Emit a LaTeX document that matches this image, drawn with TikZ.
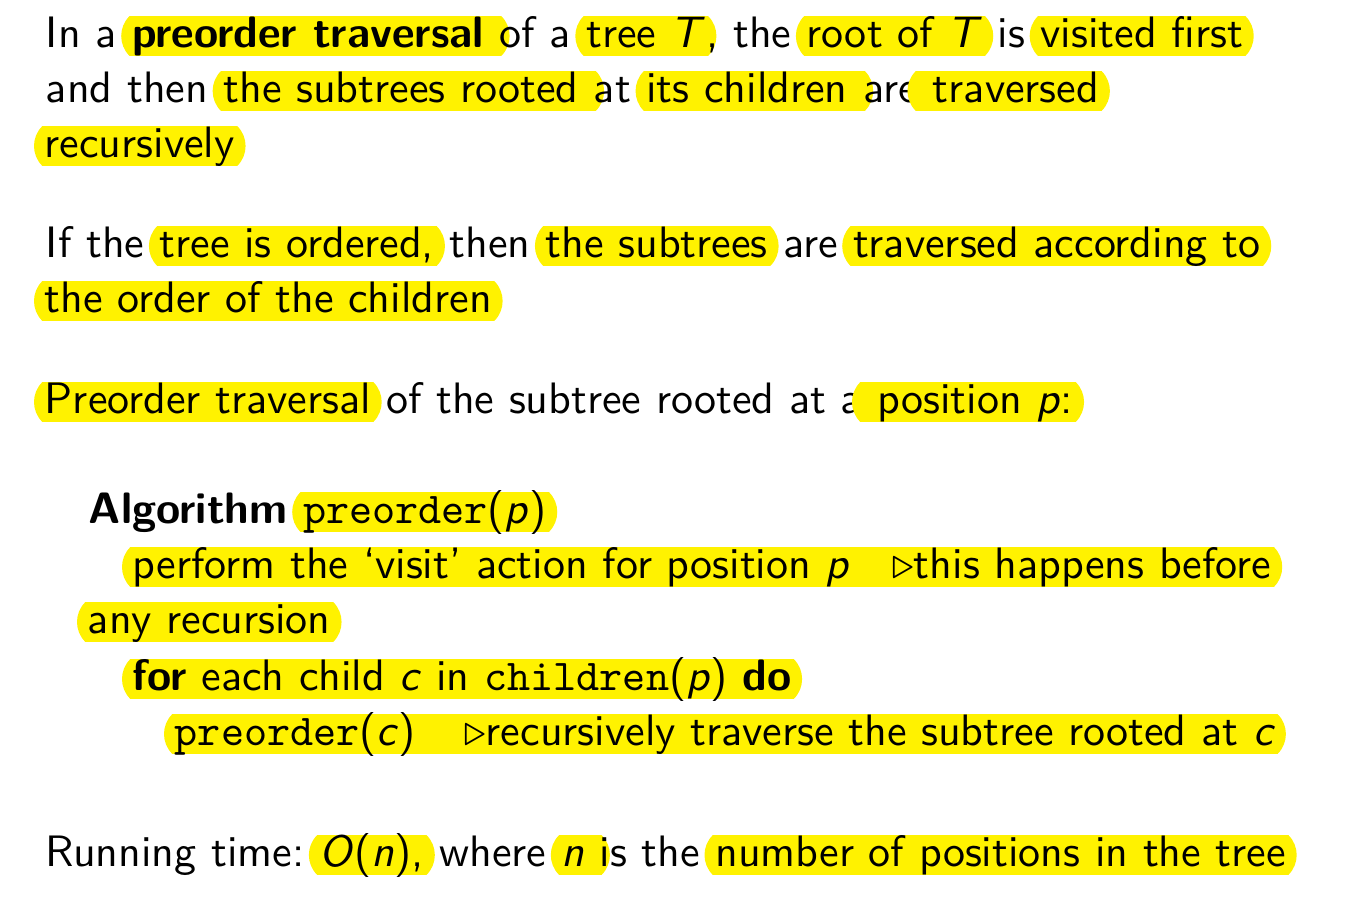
\documentclass[tikz,border=0pt]{standalone}
\usepackage{tikz}
\usetikzlibrary{shapes.misc}
\renewcommand{\familydefault}{\sfdefault}
\newcommand{\mvar}[1]{\textit{#1}}
\newcommand{\code}[1]{\texttt{#1}}
\newcommand{\cmnt}{$\triangleright$}
\newcommand{\gap}{\ \null}
\tikzset{
    txt/.style={anchor=base west, inner sep=0pt, scale=2.2, font=\fontsize{10}{12}\selectfont},
    hl/.style={txt, fill=yellow, rounded rectangle, rounded rectangle arc length=90,
        inner xsep=0.6pt, outer xsep=-2.5pt, text height=7pt, text depth=2pt},
}

\begin{document}
\begin{tikzpicture}[x=0.5pt, y=-0.5pt]
    \useasboundingbox (0,0) rectangle (1345,900);

    % first paragraph
    \path (45,47) node[txt] (l1a) {In a\gap}
        (l1a.base east) node[hl] (l1b) {\textbf{preorder traversal}\gap}
        (l1b.base east) node[txt] (l1c) {of a\gap}
        (l1c.base east) node[hl] (l1d) {tree \mvar{T}}
        (l1d.base east) node[txt] (l1e) {, the\gap}
        (l1e.base east) node[hl] (l1f) {root of \mvar{T}}
        (l1f.base east) node[txt] (l1g) {\ is\gap}
        (l1g.base east) node[hl] (l1h) {visited first};

    \path (45,102) node[txt] (l2a) {and then\gap}
        (l2a.base east) node[hl] (l2b) {the subtrees rooted\gap}
        (l2b.base east) node[txt] (l2c) {at\gap}
        (l2c.base east) node[hl] (l2d) {its children\gap}
        (l2d.base east) node[txt] (l2e) {are}
        (l2e.base east) node[hl] (l2f) {\ traversed};

    \path (45,157) node[hl] (l3a) {recursively};

    % second paragraph
    \path (45,257) node[txt] (p2a) {If the\gap}
        (p2a.base east) node[hl] (p2b) {tree is ordered,}
        (p2b.base east) node[txt] (p2c) {\ then\gap}
        (p2c.base east) node[hl] (p2d) {the subtrees}
        (p2d.base east) node[txt] (p2e) {\ are\gap}
        (p2e.base east) node[hl] (p2f) {traversed according to};

    \path (45,312) node[hl] (p2g) {the order of the children};

    % third paragraph
    \path (45,413) node[hl] (p3a) {Preorder traversal}
        (p3a.base east) node[txt] (p3b) {\ of the subtree rooted at a}
        (p3b.base east) node[hl] (p3c) {\ position \mvar{p}:};

    % algorithm
    \path (88,523) node[txt] (alg) {\textbf{Algorithm}\gap}
        (alg.base east) node[hl] (algname) {\code{preorder}(\mvar{p})};

    \path (133,578) node[hl] (visit) {perform the `visit' action for position \mvar{p}\hspace{0.95em}\cmnt this happens before};
    \path (88,633) node[hl] (visit2) {any recursion};

    \path (133,690) node[hl] (loop) {\textbf{for} each child \mvar{c} in \code{children}(\mvar{p}) \textbf{do}};

    \path (175,745) node[hl] (rec) {\code{preorder}(\mvar{c})\hspace{1.1em}\null}
        (rec.base east) node[hl] (reccmnt) {\cmnt recursively traverse the subtree rooted at \mvar{c}};

    % running time
    \path (45,866) node[txt] (rta) {Running time:\gap}
        (rta.base east) node[hl] (rtb) {\mvar{O}(\mvar{n}),}
        (rtb.base east) node[txt] (rtc) {\ where\gap}
        (rtc.base east) node[hl] (rtd) {\mvar{n}\gap}
        (rtd.base east) node[txt] (rte) {is the\gap}
        (rte.base east) node[hl] (rtf) {number of positions in the tree};
\end{tikzpicture}
\end{document}
